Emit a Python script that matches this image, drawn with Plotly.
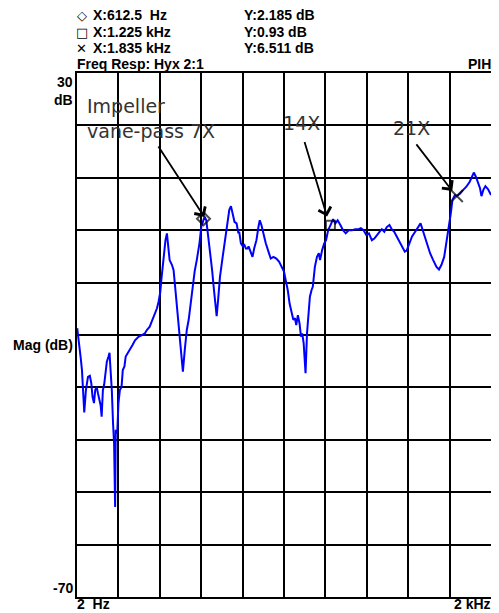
import plotly.graph_objects as go

# ---- data ----
freq_hz = [3, 10, 20, 26, 37, 45, 55, 64, 71, 77, 84, 90, 97, 103, 109, 116, 121, 127, 133, 140,
           146, 154, 159, 164, 170, 176, 181, 186, 189, 196, 202, 209, 217, 223, 231, 237, 247, 257, 270, 282,
           300, 316, 329, 340, 353, 362, 372, 381, 388, 396, 404, 409, 420, 429, 436, 442, 449, 460, 468, 477,
           489, 498, 506, 513, 522, 532, 541, 548, 558, 570, 580, 593, 602, 612.5, 618, 626, 634, 644, 654, 663,
           671, 676, 683, 692, 705, 718, 727, 737, 745, 753, 762, 772, 781, 785, 793, 801, 810, 817, 825, 830,
           841, 849, 857, 868, 878, 884, 892, 900, 913, 926, 937, 950, 964, 977, 990, 1001, 1009, 1019, 1028, 1038,
           1046, 1054, 1060, 1068, 1076, 1083, 1089, 1096, 1105, 1112, 1118, 1126, 1134, 1140, 1150, 1160, 1169, 1175, 1185, 1195,
           1204, 1214, 1225, 1238, 1249, 1260, 1273, 1286, 1299, 1313, 1329, 1345, 1361, 1372, 1385, 1398, 1411, 1425, 1437, 1449,
           1462, 1473, 1485, 1497, 1510, 1521, 1533, 1545, 1558, 1571, 1584, 1593, 1606, 1619, 1634, 1649, 1660, 1673, 1689, 1706,
           1721, 1737, 1749, 1761, 1774, 1785, 1797, 1806, 1814, 1826, 1835, 1851, 1866, 1881, 1898, 1909, 1917, 1927, 1938, 1947,
           1954, 1963, 1973, 1986, 2000]
mag_db = [-18.7, -21.6, -24.4, -26.7, -34.8, -30.5, -28.0, -27.8, -29.2, -31.8, -33.0, -30.5, -29.9, -31.1, -32.4, -33.4, -35.6, -30.5, -29.5, -26.7,
          -25.1, -24.1, -23.4, -26.7, -30.5, -36.9, -40.7, -52.8, -38.1, -38.8, -33.0, -30.5, -29.9, -26.7, -26.0, -24.1, -23.5, -22.9, -21.9, -21.0,
          -20.3, -20.0, -19.7, -19.0, -18.4, -17.5, -16.5, -15.7, -14.9, -13.6, -11.8, -9.5, -5.1, -1.9, -0.6, -3.1, -5.7, -6.6, -7.6, -11.4,
          -16.5, -21.6, -24.8, -27.0, -22.9, -19.0, -17.1, -14.6, -11.4, -7.8, -5.7, -2.5, 0.7, 2.185, 2.6, 1.9, -0.6, -3.8, -7.6, -11.4,
          -15.2, -16.4, -13.3, -8.9, -5.1, -1.2, 1.9, 3.9, 4.6, 3.2, 1.6, 1.3, -0.6, -0.3, -2.5, -3.0, -2.8, -3.5, -3.5, -3.1,
          -4.4, -5.1, -3.5, -1.9, 0.7, 1.9, 1.0, -0.6, -2.5, -4.1, -5.4, -5.1, -5.4, -6.0, -7.0, -7.9, -9.5, -11.4, -14.0, -15.9,
          -17.1, -16.8, -18.1, -16.2, -17.8, -20.3, -19.7, -21.6, -27.3, -19.7, -16.5, -12.7, -11.4, -10.8, -7.0, -5.1, -4.4, -5.7, -3.8, -2.5,
          -1.9, 0.0, 0.93, 2.1, 1.3, 1.9, 1.0, 0.0, -0.6, 0.0, 0.0, 0.2, 0.2, 0.4, 0.0, -0.9, -0.6, -1.9, -1.6, -0.9,
          -0.3, 0.2, -0.3, 0.6, 1.0, 0.2, -0.3, -1.2, -2.2, -3.1, -4.1, -3.9, -2.5, -1.2, -0.3, 0.7, 1.3, -0.3, -2.5, -4.4,
          -5.7, -7.0, -7.5, -6.6, -5.1, -2.5, 0.7, 3.2, 5.8, 6.7, 6.511, 7.0, 7.7, 8.3, 9.3, 10.3, 11.0, 10.2, 8.9, 8.0,
          6.5, 7.7, 8.4, 7.8, 6.7]

marker_freq = [612.5, 1225, 1835]
marker_db = [2.185, 0.93, 6.511]
marker_labels = ["X:612.5  Hz", "X:1.225 kHz", "X:1.835 kHz"]
marker_values = ["Y:2.185 dB", "Y:0.93 dB", "Y:6.511 dB"]
marker_glyphs = ["\u25C7", "\u25A1", "\u2715"]

x_min, x_max = 2, 2000
y_min, y_max = -70, 30

# page body has an 8px margin; the figure is sized so it fills the 499x613 window
OFF = 8
W, H = 499 - OFF, 613 - OFF
L, T = 77 - OFF, 73 - OFF
PW, PH = 416, 524
R, B = W - L - PW, H - T - PH

def px(x):
    return (x - OFF - L) / PW

def py(y):
    return (T + PH - (y - OFF)) / PH

fig = go.Figure()
fig.add_trace(go.Scatter(x=freq_hz, y=mag_db, mode="lines",
                         line=dict(color="#0000FF", width=2), hoverinfo="skip"))
fig.add_trace(go.Scatter(x=marker_freq, y=marker_db, mode="markers",
                         marker=dict(symbol=["diamond-open", "square-open", "x-thin-open"],
                                     size=[10, 9, 12], color="black",
                                     line=dict(color="black", width=2)),
                         hoverinfo="skip"))

step = (x_max - x_min) / 10
xt = [x_min + step * k for k in range(11)]

fig.update_xaxes(range=[x_min, x_max], tickvals=xt, showticklabels=False, ticks="",
                 showgrid=True, gridcolor="black", gridwidth=1.6, zeroline=False,
                 showline=True, linecolor="black", linewidth=1.6, mirror=True)
fig.update_yaxes(range=[y_min, y_max], tickvals=list(range(y_min, y_max + 1, 10)),
                 showticklabels=False, ticks="",
                 showgrid=True, gridcolor="black", gridwidth=1.6, zeroline=False,
                 showline=True, linecolor="black", linewidth=1.6, mirror=True)

bold = dict(family="Liberation Sans, Arial, sans-serif", size=14, color="black")
ann = []
rows = [15, 32, 48]
for i in range(3):
    ann.append(dict(x=px(82), y=py(rows[i]), xref="paper", yref="paper", text=marker_glyphs[i],
                    showarrow=False, xanchor="center", yanchor="middle", borderpad=0,
                    font=dict(family="DejaVu Sans", size=13, color="black")))
    ann.append(dict(x=px(91), y=py(rows[i]), xref="paper", yref="paper", text="<b>%s</b>" % marker_labels[i],
                    showarrow=False, xanchor="left", yanchor="middle", font=bold))
    ann.append(dict(x=px(243), y=py(rows[i]), xref="paper", yref="paper", text="<b>%s</b>" % marker_values[i],
                    showarrow=False, xanchor="left", yanchor="middle", font=bold))
ann.append(dict(x=px(75), y=py(64), xref="paper", yref="paper", text="<b>Freq Resp: Hyx 2:1</b>",
                showarrow=False, xanchor="left", yanchor="middle", font=bold))
ann.append(dict(x=px(495), y=py(64), xref="paper", yref="paper", text="<b>PIH</b>",
                showarrow=False, xanchor="right", yanchor="middle", font=bold))
# axis labels
for txt, yy in [("30", 82), ("dB", 100), ("Mag (dB)", 345), ("-70", 588)]:
    ann.append(dict(x=px(75), y=py(yy), xref="paper", yref="paper", text="<b>%s</b>" % txt,
                    showarrow=False, xanchor="right", yanchor="middle", font=bold))
ann.append(dict(x=px(75), y=py(604), xref="paper", yref="paper", text="<b>2  Hz</b>",
                showarrow=False, xanchor="left", yanchor="middle", font=bold))
ann.append(dict(x=px(495), y=py(604), xref="paper", yref="paper", text="<b>2 kHz</b>",
                showarrow=False, xanchor="right", yanchor="middle", font=bold))

note_font = dict(family="DejaVu Sans", size=19, color="#333333")
ann.append(dict(x=px(85), y=py(106), xref="paper", yref="paper", text="Impeller",
                showarrow=False, xanchor="left", yanchor="middle", font=note_font))
ann.append(dict(x=px(85), y=py(131), xref="paper", yref="paper", text="vane-pass 7X",
                showarrow=False, xanchor="left", yanchor="middle", font=note_font))
ann.append(dict(x=px(303), y=py(123), xref="paper", yref="paper", text="14X",
                showarrow=False, xanchor="center", yanchor="middle", font=note_font))
ann.append(dict(x=px(413), y=py(128), xref="paper", yref="paper", text="21X",
                showarrow=False, xanchor="center", yanchor="middle", font=note_font))

# arrows (tip in data coords, tail offset in px)
for tx, ty, ax, ay in [(617, 2.5, -47, -72), (1209, 2.6, -23, -76), (1813, 7.5, -37, -48)]:
    ann.append(dict(x=tx, y=ty, xref="x", yref="y", text="", showarrow=True,
                    ax=ax, ay=ay, arrowhead=4, arrowsize=1.4, arrowwidth=1.8,
                    arrowcolor="black", standoff=0, startstandoff=0))

fig.update_layout(width=W, height=H, margin=dict(l=L, r=R, t=T, b=B),
                  paper_bgcolor="white", plot_bgcolor="white", showlegend=False,
                  annotations=ann)

fig.write_html("out.html")
